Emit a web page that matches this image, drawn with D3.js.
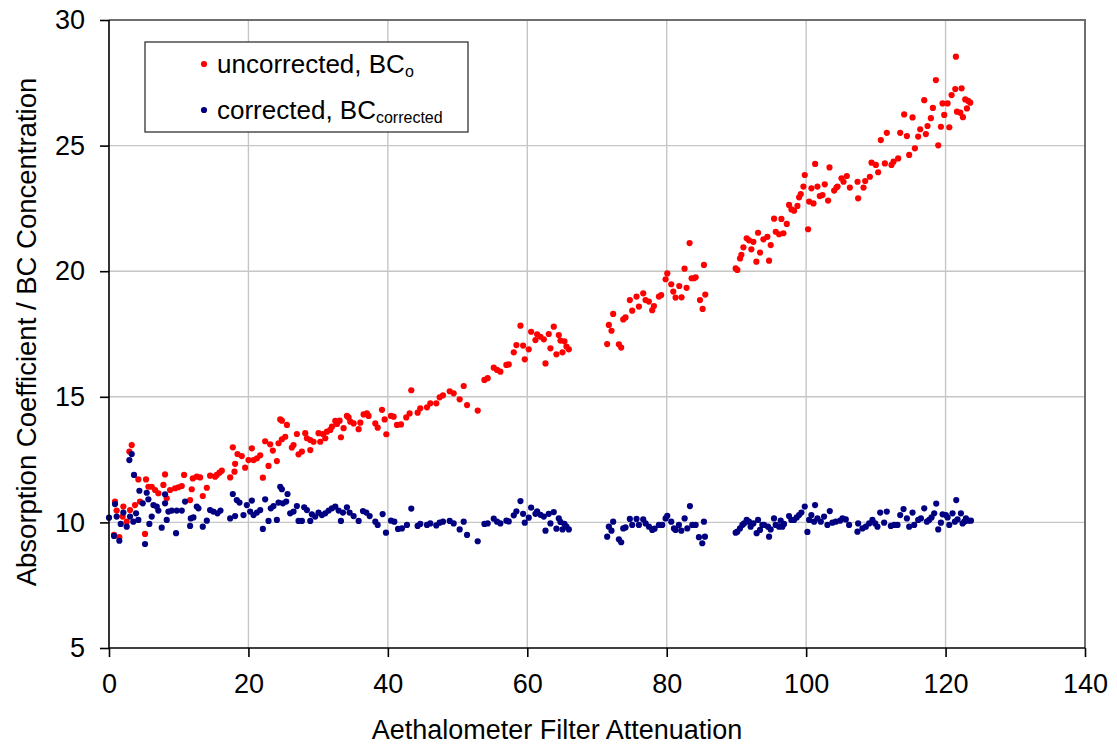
<!DOCTYPE html>
<html>
<head>
<meta charset="utf-8">
<script src="https://cdn.jsdelivr.net/npm/d3@7"></script>
<style>
  html, body { margin: 0; padding: 0; background: #fff; }
  svg { display: block; font-family: "Liberation Sans", Arial, sans-serif; }
</style>
</head>
<body>
<svg id="chart" width="1117" height="746"></svg>
<script>
// ---- data ----
const xTicks = [0, 20, 40, 60, 80, 100, 120, 140];
const yTicks = [5, 10, 15, 20, 25, 30];

const xUncorrected = [
0.86,0.72,1.48,1.10,2.06,1.96,2.92,3.26,2.54,3.02,3.73,4.21,4.45,5.31,5.17,5.65,6.13,6.61,7.08,7.80,
8.04,8.28,8.76,9.48,9.96,10.44,10.77,11.63,11.87,12.02,12.59,13.07,13.45,14.03,14.50,15.22,15.46,15.85,16.18,17.38,
17.76,18.00,18.09,18.43,19.05,19.53,20.01,20.49,20.73,21.21,21.69,22.07,22.40,22.88,23.12,23.50,24.08,24.56,24.80,24.32,
24.80,25.28,25.52,26.23,26.47,26.95,27.19,27.67,28.15,28.39,28.87,28.87,29.34,30.06,30.30,30.68,31.02,31.26,31.74,31.98,
32.46,32.70,33.08,33.27,33.65,34.13,34.37,34.61,35.09,35.81,36.05,36.52,37.00,37.24,38.20,38.54,39.16,39.54,39.78,40.45,
40.83,41.31,41.88,42.64,43.12,43.36,44.27,44.65,45.61,46.09,46.95,47.43,47.91,48.87,49.44,50.30,50.88,51.36,52.89,53.85,
54.32,55.19,55.66,56.14,57.00,57.34,58.06,58.44,59.02,59.40,59.64,60.21,60.55,61.17,61.41,61.89,62.37,62.61,63.08,63.32,
63.80,64.18,64.52,64.76,65.05,65.33,65.62,65.96,71.46,71.70,72.08,72.32,73.14,73.47,73.76,74.09,74.71,75.05,75.67,76.01,
76.63,76.96,77.44,77.92,78.16,78.88,79.21,79.84,80.08,80.65,80.94,81.27,81.80,82.13,82.56,82.85,83.28,83.57,83.91,84.15,
84.77,85.15,85.34,85.53,89.89,90.13,90.52,90.71,91.00,91.47,91.81,92.14,92.43,92.86,93.10,93.39,93.87,94.44,94.68,94.92,
95.40,95.64,96.12,96.45,96.74,97.22,97.55,97.89,98.27,98.75,98.99,99.23,99.61,99.80,100.28,100.43,100.76,101.05,101.29,101.62,
101.96,102.34,102.67,103.15,103.35,104.02,104.35,104.50,105.07,105.36,105.83,106.27,107.37,107.46,108.23,108.47,109.14,109.38,110.00,110.33,
110.71,111.29,111.57,112.24,112.53,113.20,113.49,114.06,114.45,114.78,115.26,115.60,116.07,116.36,116.94,117.17,117.41,117.89,118.18,118.61,
118.95,119.33,119.57,119.81,120.29,120.53,120.86,121.39,121.48,121.63,122.11,122.30,122.49,122.82,123.06,123.25,123.54
];
const bcUncorrected = [
10.83,9.50,9.41,10.47,10.63,10.23,12.82,13.08,10.03,10.49,10.69,11.71,10.83,11.71,9.54,11.42,11.42,11.29,11.16,11.49,
11.91,10.96,11.29,11.36,11.40,11.45,11.89,10.89,11.32,11.75,11.82,11.79,11.05,11.38,11.86,11.82,11.89,11.98,12.06,11.79,
12.99,12.02,12.33,12.72,12.64,12.18,12.48,12.95,12.48,12.55,12.67,11.78,13.23,12.25,13.11,12.86,12.44,14.10,14.05,13.15,
13.31,13.41,13.88,12.98,13.08,13.52,12.71,12.82,13.55,13.35,13.28,12.88,13.21,13.55,13.21,13.52,13.35,13.61,13.68,13.81,
14.04,13.92,14.05,13.39,13.75,14.24,14.18,14.01,13.94,13.71,13.97,14.30,14.34,14.24,13.94,13.77,14.48,14.10,13.51,14.24,
14.21,13.88,13.90,14.18,14.34,15.26,14.37,14.54,14.58,14.74,14.74,14.98,15.06,15.22,15.14,14.90,15.43,14.67,14.45,15.67,
15.74,16.16,16.07,16.00,16.27,16.29,16.77,17.06,17.83,17.04,16.49,16.89,17.59,17.26,17.49,17.39,17.29,16.33,17.50,16.93,
17.79,16.69,17.46,17.24,16.77,17.21,17.00,16.89,17.10,17.86,17.63,18.30,17.09,16.96,18.08,18.16,18.85,18.43,18.99,18.59,
19.12,18.85,18.79,18.45,18.61,18.99,19.05,19.68,19.91,19.48,19.19,18.95,19.41,18.96,20.10,19.34,21.12,19.72,19.72,19.76,
18.85,18.50,20.25,19.07,20.11,20.05,20.51,20.65,20.95,21.31,21.23,20.87,21.17,20.38,21.53,20.74,21.27,21.37,20.42,21.04,
22.09,21.57,21.47,22.08,21.51,21.88,22.64,22.46,22.41,22.60,22.94,23.07,23.37,23.83,21.67,22.77,23.30,22.70,24.27,23.37,
22.99,23.03,23.46,22.81,24.13,23.21,23.33,23.37,23.70,23.56,23.79,23.33,23.56,22.90,23.33,23.59,23.76,24.32,24.23,23.94,
25.22,24.29,25.51,24.23,24.36,24.49,25.51,26.24,25.38,24.63,26.12,24.89,25.36,25.65,26.81,25.46,25.78,26.09,26.50,27.61,
25.01,25.75,26.68,26.22,26.68,25.73,27.01,27.25,28.54,26.35,26.31,27.28,26.13,26.84,26.48,26.78,26.71
];

const xCorrected = [
0.00,0.86,0.72,1.48,1.10,1.68,2.06,2.54,2.92,3.26,3.02,3.59,3.49,3.88,4.21,4.36,4.84,5.17,5.41,5.65,
5.79,6.13,6.37,6.85,7.08,7.56,8.04,8.04,8.28,8.52,9.00,9.62,9.72,10.44,10.91,11.63,11.73,12.11,12.59,12.83,
13.45,14.03,14.50,14.98,15.56,15.99,17.38,17.76,18.09,18.33,18.72,19.29,19.77,20.25,20.49,20.73,21.21,21.69,22.07,22.40,
22.88,23.21,23.60,24.08,24.56,24.80,24.32,24.94,25.42,25.61,25.99,26.47,26.95,27.19,27.67,28.00,28.39,28.87,29.10,29.58,
30.06,30.54,31.02,31.50,31.98,32.46,32.94,33.27,33.56,34.13,34.51,35.09,35.81,36.43,36.91,37.39,38.20,38.54,39.25,39.73,
40.45,40.93,41.46,42.02,42.74,43.36,44.27,44.65,45.61,46.09,46.95,47.43,47.91,48.87,49.44,50.30,50.88,51.36,52.89,53.85,
54.32,55.19,55.66,56.14,57.00,57.34,58.06,58.44,59.02,59.40,59.64,60.21,60.55,61.17,61.41,61.89,62.37,62.61,63.08,63.32,
63.80,64.18,64.52,64.76,65.05,65.33,65.62,65.96,71.46,71.70,72.08,72.32,73.14,73.47,73.76,74.09,74.71,75.05,75.67,76.01,
76.63,76.97,77.45,77.93,78.26,78.88,79.36,79.84,80.08,80.65,81.04,81.27,81.75,82.09,82.57,82.95,83.33,83.67,84.15,84.62,
85.10,85.34,85.48,89.89,90.13,90.51,90.85,91.09,91.47,91.80,92.04,92.43,92.90,93.10,93.38,93.72,93.96,94.53,94.68,94.91,
95.39,95.63,96.11,96.35,96.59,96.83,97.55,97.88,98.27,98.65,98.98,99.32,99.80,100.18,100.42,100.75,101.14,101.28,101.62,102.10,
102.57,103.05,103.39,103.77,104.25,104.87,105.21,105.69,106.16,107.36,107.46,108.08,108.56,109.04,109.51,109.90,110.23,110.62,111.19,111.57,
112.15,112.63,113.11,113.49,113.97,114.45,114.78,115.26,115.50,116.07,116.46,116.94,117.32,117.65,117.99,118.37,118.66,118.95,119.33,119.57,
120.05,120.29,120.53,121.00,121.34,121.53,121.72,122.20,122.44,122.68,122.92,123.25,123.64
];
const bcCorrected = [
10.19,10.73,9.46,9.27,10.23,9.94,10.39,9.83,12.48,12.72,10.23,11.89,10.03,10.36,10.10,11.26,10.76,9.14,11.18,10.92,
9.94,10.23,10.69,10.63,10.47,9.79,11.12,10.76,10.10,10.43,10.47,9.57,10.47,10.47,10.83,9.86,10.16,10.20,10.63,10.56,
9.83,10.07,10.49,10.43,10.36,10.47,10.16,11.13,10.25,10.89,10.79,10.29,10.69,10.43,10.87,10.29,10.39,10.49,9.74,10.92,
10.06,10.56,10.65,10.10,11.42,11.32,10.79,10.76,10.83,11.13,10.36,10.43,10.65,10.06,10.06,10.60,10.49,10.06,10.32,10.23,
10.39,10.29,10.36,10.47,10.56,10.63,10.47,10.06,10.39,10.60,10.39,10.25,10.06,10.45,10.39,10.25,10.03,9.90,10.33,9.59,
10.07,10.03,9.74,9.76,9.90,10.55,9.86,9.94,9.90,9.96,9.88,9.99,10.03,10.06,9.96,9.72,10.03,9.50,9.25,9.94,
9.96,10.15,10.03,9.96,10.07,10.04,10.28,10.44,10.85,10.34,9.99,10.19,10.59,10.34,10.44,10.30,10.23,9.67,10.34,9.96,
10.41,9.75,10.16,10.02,9.72,9.94,9.83,9.72,9.43,9.83,9.67,10.03,9.33,9.21,9.76,9.80,10.14,9.90,10.14,9.90,
10.12,9.96,9.83,9.70,9.75,9.90,9.90,10.16,10.26,10.03,9.76,9.70,9.90,9.67,10.16,9.76,10.65,9.90,9.90,9.41,
9.17,10.03,9.43,9.59,9.63,9.76,9.90,9.96,10.10,10.03,9.83,9.96,9.57,10.10,9.70,9.90,9.90,9.83,9.43,9.72,
10.16,9.90,9.83,10.07,9.83,9.94,10.25,10.10,10.10,10.20,10.29,10.39,10.63,9.62,10.10,10.29,10.03,10.69,10.16,10.03,
10.23,9.90,10.45,9.99,10.03,10.07,10.16,10.12,9.90,9.63,9.96,9.76,9.83,9.96,10.10,9.96,9.83,10.39,9.99,10.43,
9.86,9.90,9.90,10.29,10.53,10.16,9.83,10.39,9.90,10.10,10.16,10.56,10.03,10.10,10.20,10.36,10.75,9.72,9.99,10.32,
10.29,10.20,9.90,10.36,10.03,10.89,10.12,10.36,9.96,10.03,10.16,10.07,10.07
];

const seriesNames = ["uncorrected, BC", "corrected, BC"];
const seriesSubscripts = ["o", "corrected"];
const seriesColors = ["#ff0000", "#000080"];
const xTitle = "Aethalometer Filter Attenuation";
const yTitle = "Absorption Coefficient / BC Concentration";

// ---- layout ----
const svg = d3.select("#chart");
const W = 1117, H = 746;
const mLeft = 109, mRight = 1085, mTop = 20, mBottom = 648;

svg.append("rect").attr("width", W).attr("height", H).attr("fill", "#fff");

const x = d3.scaleLinear().domain([0, 140]).range([mLeft, mRight]);
const y = d3.scaleLinear().domain([5, 30]).range([mBottom, mTop]);

// gridlines
const grid = svg.append("g");
grid.selectAll("line.v").data(xTicks.filter(t => t > 0 && t < 140)).join("line")
  .attr("x1", d => x(d)).attr("x2", d => x(d)).attr("y1", mTop).attr("y2", mBottom)
  .attr("stroke", "#c6c6c6").attr("stroke-width", 1.4);
grid.selectAll("line.h").data(yTicks.filter(t => t > 5 && t < 30)).join("line")
  .attr("x1", mLeft).attr("x2", mRight).attr("y1", d => y(d)).attr("y2", d => y(d))
  .attr("stroke", "#c6c6c6").attr("stroke-width", 1.4);

// top & right frame
svg.append("path")
  .attr("d", `M${mLeft},${mTop}H${mRight}V${mBottom}`)
  .attr("fill", "none").attr("stroke", "#6e6e6e").attr("stroke-width", 2);

// points
const red = xUncorrected.map((v, i) => [v, bcUncorrected[i]]);
const blue = xCorrected.map((v, i) => [v, bcCorrected[i]]);
const R = 3.1;
svg.append("g").selectAll("circle").data(red).join("circle")
  .attr("cx", d => x(d[0])).attr("cy", d => y(d[1])).attr("r", R).attr("fill", seriesColors[0]);
svg.append("g").selectAll("circle").data(blue).join("circle")
  .attr("cx", d => x(d[0])).attr("cy", d => y(d[1])).attr("r", R).attr("fill", seriesColors[1]);

// axes
const fontTick = 27;
const xAxis = d3.axisBottom(x).tickValues(xTicks).tickSize(9).tickPadding(17).tickFormat(d3.format("d"));
const yAxis = d3.axisLeft(y).tickValues(yTicks).tickSize(9).tickPadding(15).tickFormat(d3.format("d"));

const gx = svg.append("g").attr("transform", `translate(0,${mBottom})`).call(xAxis);
const gy = svg.append("g").attr("transform", `translate(${mLeft},0)`).call(yAxis);
[gx, gy].forEach(g => {
  g.select(".domain").attr("stroke", "#000").attr("stroke-width", 1.6);
  g.selectAll(".tick line").attr("stroke", "#000").attr("stroke-width", 1.6);
  g.selectAll(".tick text").attr("fill", "#000")
    .style("font-family", '"Liberation Sans", Arial, sans-serif')
    .style("font-size", fontTick + "px");
});
gx.select(".domain").attr("d", `M${mLeft},0H${mRight}`);
gy.select(".domain").attr("d", `M0,${mTop}V${mBottom}`);

// axis titles
svg.append("text").attr("x", 557).attr("y", 739).attr("text-anchor", "middle")
  .style("font-size", "27px").attr("fill", "#000").text(xTitle);
svg.append("text").attr("transform", "translate(36,332) rotate(-90)").attr("text-anchor", "middle")
  .style("font-size", "27.5px").attr("fill", "#000").text(yTitle);

// legend
const lg = svg.append("g");
lg.append("rect").attr("x", 145).attr("y", 42).attr("width", 323).attr("height", 90)
  .attr("fill", "#fff").attr("stroke", "#333").attr("stroke-width", 1.3);
const rows = [0, 1];
const rowY = d3.scalePoint().domain(rows).range([64, 110]);
rows.forEach(i => {
  lg.append("circle").attr("cx", 204).attr("cy", rowY(i)).attr("r", R).attr("fill", seriesColors[i]);
  const t = lg.append("text").attr("x", 217).attr("y", rowY(i) + 9)
    .style("font-size", "26px").attr("fill", "#000");
  t.append("tspan").text(seriesNames[i]);
  t.append("tspan").attr("dy", 3.5).style("font-size", "16px").text(seriesSubscripts[i]);
});
</script>
</body>
</html>
